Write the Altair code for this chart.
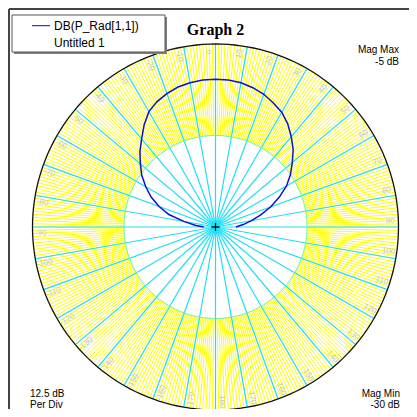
import math
import altair as alt
import pandas as pd

# ---- data ----
curve_angle = [-90, -85, -80, -75, -70, -65, -60, -55, -50, -45, -40, -35, -30, -25, -20, -15, -10, -5,
               0, 5, 10, 15, 20, 25, 30, 35, 40, 45, 50, 55, 60, 65, 70, 75, 80, 85, 90]
curve_db = [-28.4, -27.2, -25.6, -23.4, -21.8, -20.3, -19.0, -17.7, -16.6, -15.4, -14.3, -13.0, -11.8,
            -11.1, -10.6, -10.2, -10.0, -9.85, -9.8, -9.85, -10.0, -10.3, -10.7, -11.3, -11.9, -12.8,
            -13.9, -15.0, -16.3, -17.5, -18.8, -20.4, -22.0, -23.6, -25.0, -26.2, -27.2]
MAG_MAX = -5.0
MAG_MIN = -30.0
grid_major = list(range(0, 360, 10))
grid_minor = list(range(0, 360, 1))
tick_labels = [str(a if a <= 180 else a - 360) for a in grid_major]
ring_radii = [0.5, 1.0]

# ---- geometry ----
W = H = 401
CX, CY, R = 207.5, 219.0, 183.0
xs = alt.Scale(domain=[-CX / R, (W - CX) / R], nice=False, zero=False)
ys = alt.Scale(domain=[-(H - CY) / R, CY / R], nice=False, zero=False)
CYAN = "#1ee0f5"
YELLOW = "#ffff00"

one = pd.DataFrame({"k": [0]})

def rules(df, color, width):
    return alt.Chart(df).mark_rule(color=color, strokeWidth=width).encode(
        x=alt.X("xa:Q", scale=xs, axis=None), y=alt.Y("ya:Q", scale=ys, axis=None),
        x2="xb:Q", y2="yb:Q")

minor = rules(pd.DataFrame({"a": grid_minor}), YELLOW, 1).transform_calculate(
    xa="0.5*sin(datum.a*PI/180)", ya="0.5*cos(datum.a*PI/180)",
    xb="sin(datum.a*PI/180)", yb="cos(datum.a*PI/180)")

major = rules(pd.DataFrame({"a": grid_major}), CYAN, 1.2).transform_calculate(
    xa="0", ya="0", xb="sin(datum.a*PI/180)", yb="cos(datum.a*PI/180)")

ring_rows = [{"r": r, "a": a} for r in ring_radii for a in range(0, 361, 2)]
rings_df = pd.DataFrame(ring_rows)
inner_ring = alt.Chart(rings_df[rings_df.r == 0.5]).mark_line(color="#70f0b0", strokeWidth=1).transform_calculate(
    px="datum.r*sin(datum.a*PI/180)", py="datum.r*cos(datum.a*PI/180)").encode(
    x=alt.X("px:Q", scale=xs, axis=None), y=alt.Y("py:Q", scale=ys, axis=None), order="a:Q")
outer_ring = alt.Chart(rings_df[rings_df.r == 1.0]).mark_line(color="#111111", strokeWidth=1.3).transform_calculate(
    px="datum.r*sin(datum.a*PI/180)", py="datum.r*cos(datum.a*PI/180)").encode(
    x=alt.X("px:Q", scale=xs, axis=None), y=alt.Y("py:Q", scale=ys, axis=None), order="a:Q")

lab_df = pd.DataFrame({"a": grid_major, "t": tick_labels})
labels = alt.Chart(lab_df).mark_text(font="Liberation Sans", fontSize=8, color="#c4c4c4",
                                     align="center", baseline="middle").transform_calculate(
    px="0.955*sin((datum.a-2)*PI/180)", py="0.955*cos((datum.a-2)*PI/180)",
    rot="datum.a <= 180 ? (datum.a + 270) % 360 : (datum.a + 90) % 360").encode(
    x=alt.X("px:Q", scale=xs, axis=None), y=alt.Y("py:Q", scale=ys, axis=None),
    text="t:N", angle=alt.Angle("rot:Q", scale=None))

curve = alt.Chart(pd.DataFrame({"a": curve_angle, "db": curve_db})).mark_line(
    color="#1010d0", strokeWidth=1.5).transform_calculate(
    rr=f"max(0, (datum.db - ({MAG_MIN}))/({MAG_MAX - MAG_MIN}))").transform_calculate(
    px="datum.rr*sin(datum.a*PI/180)", py="datum.rr*cos(datum.a*PI/180)").encode(
    x=alt.X("px:Q", scale=xs, axis=None), y=alt.Y("py:Q", scale=ys, axis=None), order="a:Q")

cross = rules(pd.DataFrame({"xa": [-0.022, 0], "ya": [0, -0.022], "xb": [0.022, 0], "yb": [0, 0.022]}),
              "#000000", 1.2)

# frame
frame_v = alt.Chart(one).mark_rule(color="#444444", strokeWidth=2).encode(
    x=alt.value(1), y=alt.value(1), y2=alt.value(410))
frame_h = alt.Chart(one).mark_rule(color="#444444", strokeWidth=2).encode(
    x=alt.value(1), x2=alt.value(410), y=alt.value(1))

# legend box
shadow = alt.Chart(one).mark_rect(color="#808080").encode(
    x=alt.value(6), x2=alt.value(159), y=alt.value(9), y2=alt.value(46))
box = alt.Chart(one).mark_rect(fill="white", stroke="#555555", strokeWidth=1).encode(
    x=alt.value(4), x2=alt.value(157), y=alt.value(7), y2=alt.value(44))
leg_line = alt.Chart(one).mark_rule(color="#0000ff", strokeWidth=1).encode(
    x=alt.value(24), x2=alt.value(42), y=alt.value(17.7))

def txt(s, x, y, align="left", size=12, font="Liberation Sans", weight="normal", baseline="middle"):
    return alt.Chart(one).mark_text(text=s, align=align, baseline=baseline, fontSize=size, font=font,
                                    fontWeight=weight, color="#000000").encode(
        x=alt.value(x), y=alt.value(y))

texts = [
    txt("DB(P_Rad[1,1])", 46, 18),
    txt("Untitled 1", 46, 34.7),
    txt("Graph 2", 207.5, 27, align="center", size=16, font="Liberation Serif", weight="bold",
        baseline="alphabetic"),
    txt("Mag Max", 391, 42, align="right", size=10),
    txt("-5 dB", 391, 54, align="right", size=10),
    txt("Mag Min", 392, 388.5, align="right", size=10, baseline="alphabetic"),
    txt("-30 dB", 392, 399.5, align="right", size=10, baseline="alphabetic"),
    txt("12.5 dB", 22, 388.5, size=10, baseline="alphabetic"),
    txt("Per Div", 22, 399.5, size=10, baseline="alphabetic"),
]

chart = alt.layer(minor, major, inner_ring, outer_ring, labels, curve, cross,
                  frame_v, frame_h, shadow, box, leg_line, *texts).properties(
    width=W, height=H, autosize=alt.AutoSizeParams(type="none"), padding=0,
    background="white").configure_view(stroke=None)

chart.save("out.html", embed_options={"renderer": "svg", "actions": False})
